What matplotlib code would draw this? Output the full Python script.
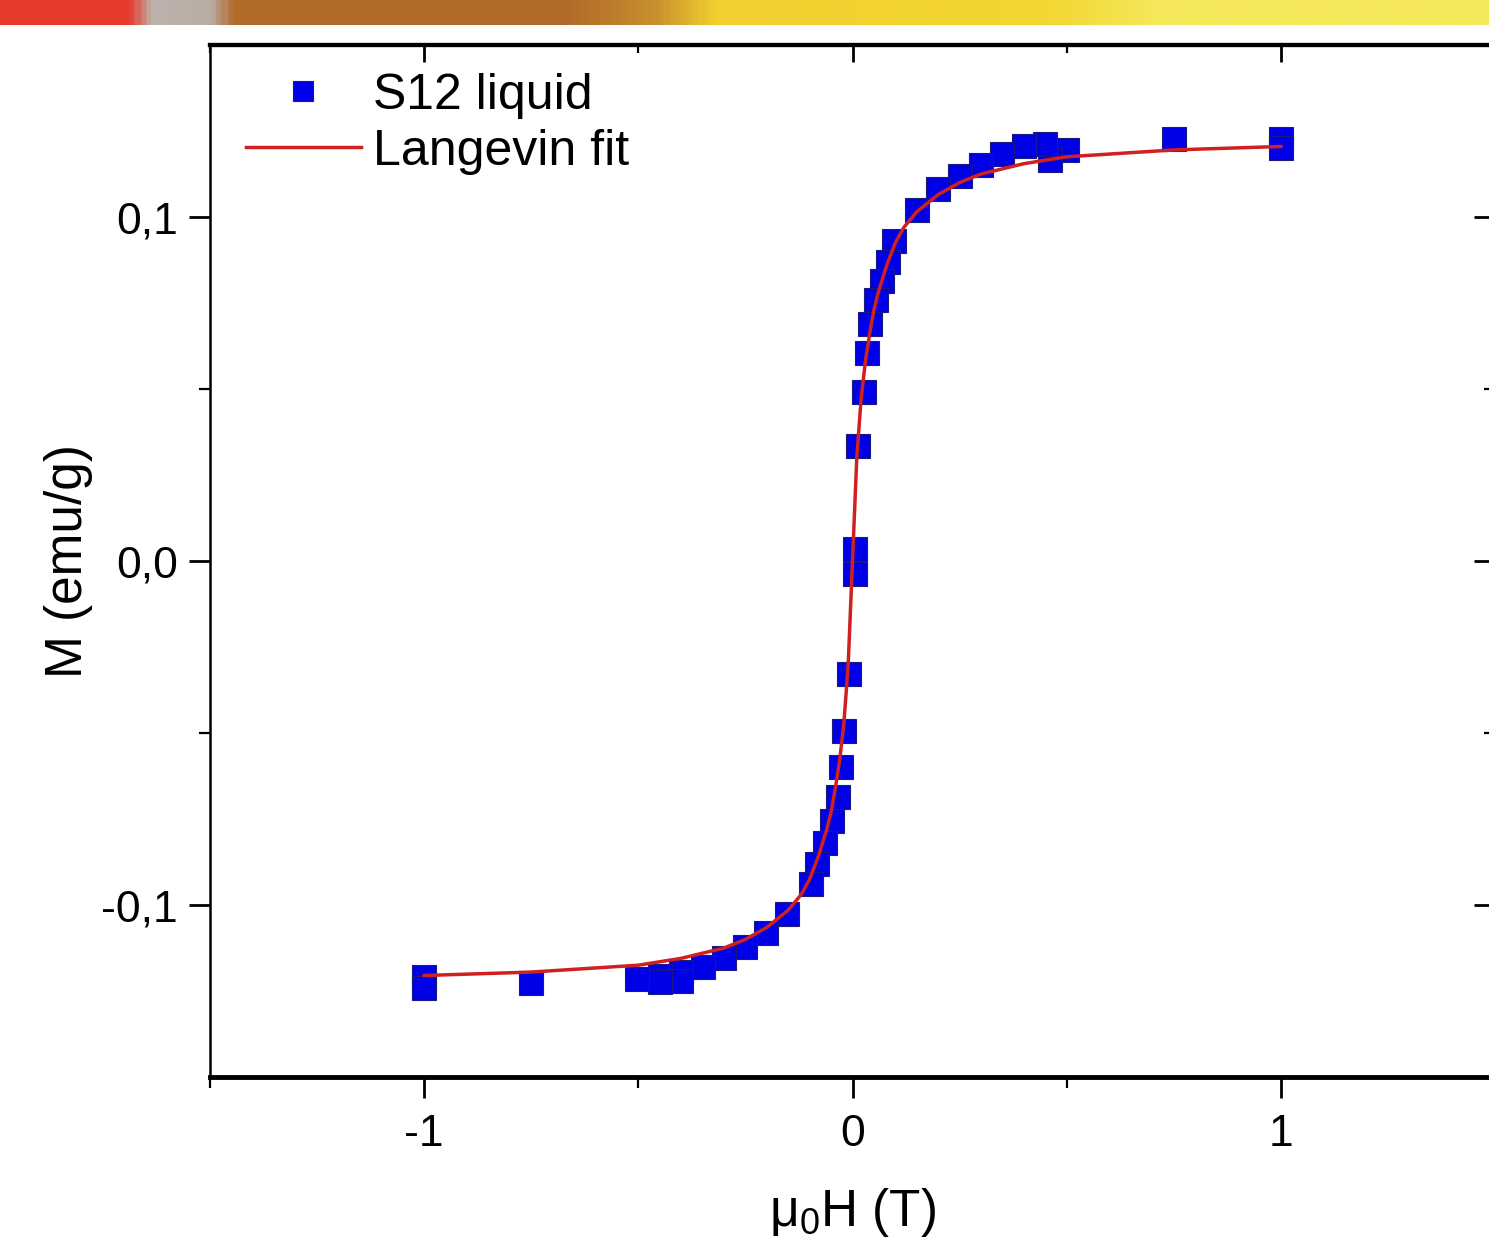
import matplotlib.pyplot as plt
import numpy as np
from matplotlib.colors import LinearSegmentedColormap

plt.rcParams['font.family'] = ['Liberation Sans', 'DejaVu Sans']
plt.rcParams['mathtext.fontset'] = 'custom'
plt.rcParams['mathtext.rm'] = 'Liberation Sans'
plt.rcParams['mathtext.it'] = 'Liberation Sans'

# Datos medidos (campo en T, magnetizacion en emu/g)
campo = [1.0, 1.0, 0.75, 0.50, 0.46, 0.45, 0.40, 0.35, 0.30, 0.25, 0.20, 0.15,
         0.098, 0.082, 0.068, 0.056, 0.040, 0.033, 0.028, 0.012, 0.005, 0.005,
         -0.009, -0.019, -0.026, -0.035, -0.049, -0.065, -0.082, -0.096,
         -0.152, -0.201, -0.252, -0.299, -0.35, -0.40, -0.40, -0.45, -0.45,
         -0.502, -0.75, -1.0, -1.0]
magnet = [0.1228, 0.1200, 0.1228, 0.1196, 0.1165, 0.1213, 0.1205, 0.1184, 0.1150,
          0.1120, 0.1080, 0.1020, 0.0930, 0.0870, 0.0815, 0.0760, 0.0690, 0.0605,
          0.0490, 0.0334, 0.0035, -0.0038, -0.0328, -0.0493, -0.0600, -0.0685,
          -0.0755, -0.0820, -0.0880, -0.0940, -0.1025, -0.1080, -0.1123, -0.1155,
          -0.1180, -0.1195, -0.1220, -0.1205, -0.1225, -0.1215, -0.1228, -0.1210,
          -0.1240]

# Curva de ajuste Langevin
campo_fit = [-1.0, -0.75, -0.5, -0.4, -0.3, -0.25, -0.2, -0.15, -0.12, -0.1, -0.08,
             -0.06, -0.05, -0.04, -0.03, -0.02, -0.01, 0.0, 0.01, 0.02, 0.03, 0.04,
             0.05, 0.06, 0.08, 0.1, 0.12, 0.15, 0.2, 0.25, 0.3, 0.4, 0.5, 0.75, 1.0]
magnet_fit = [-0.1205, -0.1195, -0.1175, -0.1155, -0.1125, -0.1100, -0.1065, -0.1015,
              -0.0970, -0.0925, -0.0860, -0.0780, -0.0730, -0.0660, -0.0580, -0.0470,
              -0.0300, 0.0, 0.0300, 0.0470, 0.0580, 0.0660, 0.0730, 0.0780, 0.0860,
              0.0925, 0.0970, 0.1015, 0.1065, 0.1100, 0.1125, 0.1155, 0.1175, 0.1195,
              0.1205]

fig = plt.figure(figsize=(14.89, 12.48), dpi=100)

# Franja de color arriba (fondo de la diapositiva)
franja = fig.add_axes([0, 1 - 25 / 1248, 1, 25 / 1248])
cmap = LinearSegmentedColormap.from_list('franja', [
    (0.0, '#E83A2A'), (0.085, '#E83A2A'), (0.100, '#BDB3AC'), (0.140, '#B8ADA5'),
    (0.155, '#B26A2A'), (0.38, '#B26A2A'), (0.44, '#C8902E'), (0.48, '#F0CF2E'),
    (0.70, '#F3D631'), (0.78, '#F5E85A'), (1.0, '#F5E85A')])
franja.imshow(np.linspace(0, 1, 600)[None, :], cmap=cmap, aspect='auto')
franja.axis('off')

ax = fig.add_axes([210 / 1489, 1 - 1077 / 1248, 1285 / 1489, 1032 / 1248])

ax.plot(campo, magnet, 's', color='#0000E6', mec='#1A1A80', mew=0.8,
        markersize=17.5, label='S12 liquid', zorder=2)
ax.plot(campo_fit, magnet_fit, '-', color='#D02020', lw=2.5,
        label='Langevin fit', zorder=3)

ax.set_xlim(-1.5, 1.5)
ax.set_ylim(-0.15, 0.15)
ax.set_xticks([-1, 0, 1])
ax.set_xticklabels(['-1', '0', '1'])
ax.set_xticks([-1.5, -0.5, 0.5, 1.5], minor=True)
ax.set_yticks([-0.1, 0.0, 0.1])
ax.set_yticklabels(['-0,1', '0,0', '0,1'])
ax.set_yticks([-0.05, 0.05], minor=True)

ax.tick_params(which='major', direction='out', length=15, width=2, labelsize=32, pad=8)
ax.tick_params(which='minor', direction='out', length=8, width=1.6)
ax.tick_params(axis='x', which='major', pad=12)

ax.spines['bottom'].set_linewidth(3.5)
ax.spines['left'].set_linewidth(1.8)
ax.spines['top'].set_linewidth(3)
ax.spines['right'].set_linewidth(1.8)

# Ticks hacia dentro arriba y a la derecha
arriba = ax.secondary_xaxis('top')
arriba.set_xticks([-1, 0, 1])
arriba.set_xticks([-1.5, -0.5, 0.5, 1.5], minor=True)
arriba.tick_params(which='major', direction='in', length=12, width=2, labeltop=False)
arriba.tick_params(which='minor', direction='in', length=6, width=1.6)
arriba.spines['top'].set_linewidth(3)

derecha = ax.secondary_yaxis('right')
derecha.set_yticks([-0.1, 0.0, 0.1])
derecha.set_yticks([-0.05, 0.05], minor=True)
derecha.tick_params(which='major', direction='in', length=15, width=2, labelright=False)
derecha.tick_params(which='minor', direction='in', length=8, width=1.6)

ax.set_xlabel('μ$_0$H (T)', fontsize=37, labelpad=22)
ax.set_ylabel('M (emu/g)', fontsize=37, labelpad=6)

ax.legend(loc='upper left', bbox_to_anchor=(0.028, 0.973), frameon=False,
          fontsize=36, borderaxespad=0, borderpad=0, handlelength=2.3,
          handletextpad=0.25, labelspacing=0.2, markerscale=0.85)

fig.savefig('out.png', dpi=100)
